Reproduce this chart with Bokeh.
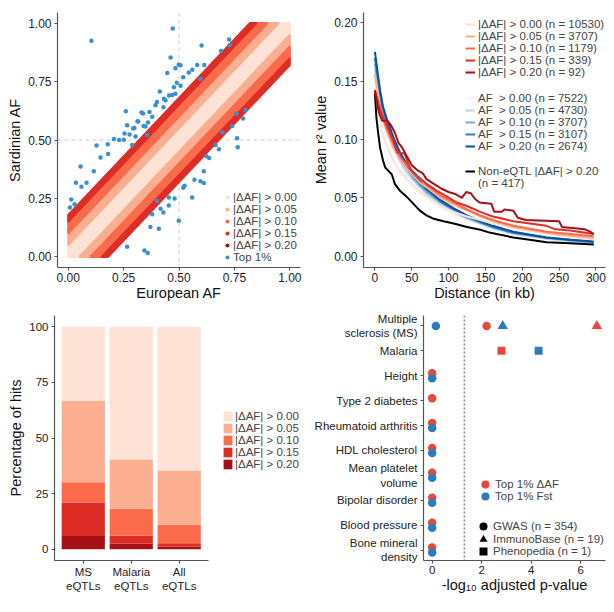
from bokeh.plotting import figure
from bokeh.layouts import row, column
from bokeh.models import (Legend, LegendItem, Label, Span, FixedTicker,
                          NumeralTickFormatter, ColumnDataSource)
from bokeh.embed import file_html
from bokeh.resources import INLINE

FONT = "Liberation Sans"
AXIS_COLOR = "#555555"

# ---------------- data: panel A ----------------
delta_thresholds = [0.00, 0.05, 0.10, 0.15, 0.20]
delta_max = 0.18
delta_labels = ["|ΔAF| > 0.00", "|ΔAF| > 0.05", "|ΔAF| > 0.10", "|ΔAF| > 0.15", "|ΔAF| > 0.20"]
reds = ["#fee2d5", "#fcae91", "#fb6a4a", "#de2d26", "#a50f15"]
top1_eur = [0.105, 0.472, 0.462, 0.602, 0.726, 0.729, 0.690, 0.507, 0.582, 0.614, 0.544, 0.597,
            0.519, 0.507, 0.477, 0.414, 0.432, 0.401, 0.455, 0.367, 0.338, 0.379, 0.313, 0.266,
            0.260, 0.254, 0.293, 0.340, 0.360, 0.206, 0.230, 0.179, 0.128, 0.146, 0.180, 0.116,
            0.056, 0.083, 0.035, 0.060, 0.014, 0.008, 0.029, 0.289, 0.356, 0.430, 0.490, 0.560,
            0.447, 0.484, 0.499, 0.439, 0.394, 0.331, 0.316, 0.299, 0.349, 0.277, 0.251, 0.304,
            0.469, 0.484,
            0.344, 0.359, 0.266, 0.499, 0.401, 0.379, 0.371, 0.409, 0.417, 0.454, 0.454, 0.519,
            0.525, 0.559, 0.597, 0.612, 0.612, 0.624, 0.636, 0.665, 0.696, 0.765, 0.762, 0.789,
            0.759, 0.800, 0.740, 0.680, 0.570, 0.480, 0.430]
top1_sar = [0.924, 0.977, 0.853, 0.904, 0.930, 0.906, 0.880, 0.820, 0.821, 0.821, 0.789, 0.761,
            0.768, 0.732, 0.725, 0.707, 0.676, 0.662, 0.690, 0.620, 0.613, 0.599, 0.580, 0.563,
            0.623, 0.528, 0.549, 0.560, 0.575, 0.504, 0.500, 0.482, 0.476, 0.425, 0.440, 0.366,
            0.387, 0.317, 0.317, 0.300, 0.246, 0.211, 0.225, 0.479, 0.521, 0.640, 0.745, 0.800,
            0.786, 0.807, 0.822, 0.670, 0.649, 0.618, 0.579, 0.551, 0.558, 0.523, 0.501, 0.515,
            0.692, 0.698,
            0.028, 0.017, 0.044, 0.155, 0.239, 0.183, 0.128, 0.121, 0.206, 0.220, 0.254, 0.296,
            0.304, 0.254, 0.324, 0.366, 0.316, 0.431, 0.423, 0.479, 0.532, 0.469, 0.507, 0.592,
            0.613, 0.627, 0.560, 0.460, 0.330, 0.250, 0.190]
top1_color = "#3a8fd1"

# ---------------- data: panel B ----------------
dist_kb = [0, 7, 11, 16, 25, 34, 43, 52, 61, 70, 89, 107, 125, 143, 160, 188, 233, 265, 297]
r2_delta_000 = [0.150, 0.115, 0.104, 0.095, 0.082, 0.073, 0.066, 0.060, 0.055, 0.051, 0.043, 0.038, 0.034, 0.031, 0.028, 0.024, 0.019, 0.0165, 0.0145]
r2_delta_005 = [0.156, 0.128, 0.117, 0.107, 0.093, 0.083, 0.075, 0.069, 0.063, 0.059, 0.050, 0.044, 0.039, 0.034, 0.030, 0.025, 0.020, 0.0175, 0.0155]
r2_delta_010 = [0.142, 0.128, 0.118, 0.110, 0.096, 0.085, 0.078, 0.072, 0.066, 0.061, 0.052, 0.046, 0.040, 0.035, 0.031, 0.026, 0.021, 0.019, 0.017]
dist_kb_015 = [0, 7, 16, 25, 30, 40, 45, 48, 57, 70, 84, 98, 111, 125, 143, 160, 188, 233, 245, 265, 297]
r2_delta_015 = [0.142, 0.125, 0.112, 0.099, 0.089, 0.088, 0.080, 0.075, 0.069, 0.062, 0.056, 0.051, 0.046, 0.043, 0.038, 0.034, 0.030, 0.026, 0.023, 0.022, 0.019]
dist_kb_020 = [0, 3, 6, 10, 17, 22, 27, 32, 37, 43, 50, 57, 65, 70, 80, 90, 100, 110, 118, 124, 130, 136, 142, 158, 162, 172, 176, 188, 194, 205, 250, 254, 285, 292, 297]
r2_delta_020 = [0.142, 0.130, 0.122, 0.116, 0.116, 0.112, 0.106, 0.097, 0.093, 0.086, 0.078, 0.074, 0.071, 0.066, 0.062, 0.058, 0.055, 0.053, 0.050, 0.055, 0.054, 0.049, 0.046, 0.045, 0.038, 0.038, 0.040, 0.039, 0.033, 0.031, 0.030, 0.025, 0.023, 0.021, 0.019]
r2_af_000 = [0.155, 0.128, 0.115, 0.105, 0.090, 0.079, 0.069, 0.062, 0.056, 0.051, 0.042, 0.036, 0.031, 0.027, 0.023, 0.019, 0.015, 0.013, 0.011]
r2_af_005 = [0.160, 0.132, 0.119, 0.109, 0.094, 0.082, 0.072, 0.065, 0.059, 0.053, 0.044, 0.038, 0.032, 0.028, 0.024, 0.019, 0.015, 0.013, 0.0115]
r2_af_010 = [0.165, 0.136, 0.123, 0.113, 0.097, 0.085, 0.075, 0.067, 0.061, 0.055, 0.046, 0.039, 0.033, 0.029, 0.025, 0.020, 0.0155, 0.0135, 0.012]
r2_af_015 = [0.170, 0.139, 0.126, 0.116, 0.100, 0.087, 0.077, 0.069, 0.062, 0.057, 0.047, 0.040, 0.034, 0.029, 0.025, 0.020, 0.016, 0.014, 0.012]
r2_af_020 = [0.175, 0.142, 0.128, 0.118, 0.102, 0.089, 0.079, 0.071, 0.064, 0.058, 0.048, 0.041, 0.035, 0.030, 0.026, 0.021, 0.016, 0.014, 0.0125]
dist_kb_non = [0, 2, 4.5, 7, 11, 14, 20, 23, 27, 34, 43, 52, 61, 70, 80, 93, 107, 125, 143, 157, 188, 210, 233, 265, 297]
r2_non_eqtl = [0.139, 0.119, 0.105, 0.093, 0.082, 0.076, 0.072, 0.070, 0.062, 0.056, 0.051, 0.045, 0.039, 0.035, 0.032, 0.030, 0.028, 0.025, 0.0226, 0.020, 0.016, 0.014, 0.012, 0.011, 0.010]
delta_n = [10530, 3707, 1179, 339, 92]
af_n = [7522, 4730, 3707, 3107, 2674]
non_eqtl_n = 417
blues = ["#eff3ff", "#bdd7e7", "#6baed6", "#3182bd", "#08519c"]

# ---------------- data: panel C ----------------
c_categories = ["MS\neQTLs", "Malaria\neQTLs", "All\neQTLs"]
pct_delta_020 = [6.0, 2.5, 1.2]
pct_delta_015 = [15.0, 3.6, 1.6]
pct_delta_010 = [9.1, 12.1, 8.2]
pct_delta_005 = [36.6, 22.2, 24.4]
pct_delta_000 = [33.3, 59.6, 64.6]

# ---------------- data: panel D ----------------
d_traits = ["Multiple\nsclerosis (MS)", "Malaria", "Height", "Type 2 diabetes",
            "Rheumatoid arthritis", "HDL cholesterol", "Mean platelet\nvolume",
            "Bipolar disorder", "Blood pressure", "Bone mineral\ndensity"]
d_trait_idx = [0, 0, 0, 0, 1, 1, 2, 2, 3, 4, 4, 5, 5, 6, 6, 7, 7, 8, 8, 9, 9]
d_metric = ["dAF", "Fst", "Fst", "dAF", "dAF", "Fst", "dAF", "Fst", "dAF", "dAF", "Fst",
            "dAF", "Fst", "dAF", "Fst", "dAF", "Fst", "dAF", "Fst", "dAF", "Fst"]
d_source = ["GWAS", "GWAS", "ImmunoBase", "ImmunoBase", "Phenopedia", "Phenopedia",
            "GWAS", "GWAS", "GWAS", "GWAS", "GWAS", "GWAS", "GWAS", "GWAS", "GWAS",
            "GWAS", "GWAS", "GWAS", "GWAS", "GWAS", "GWAS"]
d_value = [2.2, 0.15, 2.85, 6.65, 2.8, 4.3, 0, 0, 0, 0, 0, 0, 0, 0, 0, 0, 0, 0, 0, 0, 0]
d_metric_labels = {"dAF": "Top 1% ΔAF", "Fst": "Top 1% Fst"}
d_source_labels = {"GWAS": "GWAS (n = 354)", "ImmunoBase": "ImmunoBase (n = 19)",
                   "Phenopedia": "Phenopedia (n = 1)"}
sig_threshold = 1.3
d_colors = {"dAF": "#e8473b", "Fst": "#2b7cbc"}
d_markers = {"GWAS": "circle", "ImmunoBase": "triangle", "Phenopedia": "square"}
d_sizes = {"GWAS": 8.5, "ImmunoBase": 10.5, "Phenopedia": 8}


def style(p, tick_size="12px"):
    p.outline_line_color = None
    p.xgrid.grid_line_color = None
    p.ygrid.grid_line_color = None
    p.background_fill_color = "white"
    p.border_fill_color = "white"
    for ax in p.axis:
        ax.axis_line_color = AXIS_COLOR
        ax.axis_line_width = 1.2
        ax.major_tick_line_color = AXIS_COLOR
        ax.major_tick_line_width = 1.2
        ax.major_tick_in = 0
        ax.major_tick_out = 3
        ax.minor_tick_line_color = None
        ax.major_label_text_font = FONT
        ax.major_label_text_font_size = tick_size
        ax.major_label_text_color = "#222222"
        ax.axis_label_text_font = FONT
        ax.axis_label_text_font_size = "14.5px"
        ax.axis_label_text_font_style = "normal"
        ax.axis_label_text_color = "#111111"
        ax.major_label_standoff = 3
        ax.axis_label_standoff = 2
    for ax in p.xaxis:
        ax.major_label_standoff = 2
        ax.axis_label_standoff = 0


def panel_label(p, text, x, y):
    p.add_layout(Label(x=x, y=y, x_units="screen", y_units="screen", text=text,
                       text_font=FONT, text_font_size="13px", text_font_style="bold",
                       text_baseline="middle", text_align="left"))


def make_legend(items, loc, font_size="11.5px", gw=10, gh=12, lh=12, standoff=3):
    return Legend(items=items, location=loc, label_text_font=FONT,
                  label_text_font_size=font_size, label_height=lh, glyph_height=gh,
                  glyph_width=gw, spacing=0, padding=0, margin=0, label_standoff=standoff,
                  border_line_color=None, background_fill_alpha=0)


# ================= Panel A =================
pa = figure(width=305, height=304, x_range=(-0.048, 1.048), y_range=(-0.045, 1.045),
            min_border_left=57, min_border_right=5, min_border_top=10, min_border_bottom=37,
            output_backend="svg", toolbar_location=None)
style(pa)
pa.xaxis.axis_label = "European AF"
pa.yaxis.axis_label = "Sardinian AF"
pa.xaxis.ticker = FixedTicker(ticks=[0, 0.25, 0.5, 0.75, 1.0])
pa.yaxis.ticker = FixedTicker(ticks=[0, 0.25, 0.5, 0.75, 1.0])
pa.xaxis.formatter = NumeralTickFormatter(format="0.00")
pa.yaxis.formatter = NumeralTickFormatter(format="0.00")
pa.add_layout(Span(location=0.5, dimension="height", line_color="#cccccc", line_dash="4 3", line_width=1, level="underlay"))
pa.add_layout(Span(location=0.5, dimension="width", line_color="#cccccc", line_dash="4 3", line_width=1, level="underlay"))

edges = delta_thresholds + [1.0]
band_xs, band_ys, band_cols = [], [], []
for i in range(len(delta_thresholds)):
    lo, hi = edges[i], min(edges[i + 1], delta_max)
    if lo >= hi:
        continue
    band_xs.append([0, 0, 1 - hi, 1 - lo]); band_ys.append([lo, hi, 1, 1])
    band_xs.append([lo, hi, 1, 1]); band_ys.append([0, 0, 1 - hi, 1 - lo])
    band_cols += [reds[i], reds[i]]
pa.patches(band_xs, band_ys, fill_color=band_cols, line_color=band_cols, line_width=2)
pa.scatter(top1_eur, top1_sar, size=4.5, fill_color=top1_color, line_color=None)

a_items = []
for lab, col in zip(delta_labels, reds):
    r = pa.scatter([-9], [-9], size=4.5, fill_color=col, line_color=None)
    a_items.append(LegendItem(label=lab, renderers=[r]))
rt = pa.scatter([-9], [-9], size=4.5, fill_color=top1_color, line_color=None)
a_items.append(LegendItem(label="Top 1%", renderers=[rt]))
pa.add_layout(make_legend(a_items, (165, 4), font_size="11.5px", gw=10, standoff=1))
panel_label(pa, "A", -47, 253)

# ================= Panel B =================
pb = figure(width=309, height=304, x_range=(-15.5, 313), y_range=(-0.0097, 0.2088),
            min_border_left=58, min_border_right=9, min_border_top=12, min_border_bottom=37,
            output_backend="svg", toolbar_location=None)
style(pb)
pb.xaxis.axis_label = "Distance (in kb)"
pb.yaxis.axis_label = "Mean r² value"
pb.xaxis.ticker = FixedTicker(ticks=[0, 50, 100, 150, 200, 250, 300])
pb.yaxis.ticker = FixedTicker(ticks=[0, 0.05, 0.10, 0.15, 0.20])
pb.yaxis.formatter = NumeralTickFormatter(format="0.00")

LW = 2
delta_series = [(dist_kb, r2_delta_000), (dist_kb, r2_delta_005), (dist_kb, r2_delta_010),
                (dist_kb_015, r2_delta_015), (dist_kb_020, r2_delta_020)]
af_series = [r2_af_000, r2_af_005, r2_af_010, r2_af_015, r2_af_020]
af_thr = [0.00, 0.05, 0.10, 0.15, 0.20]

af_renderers = []
for ys, col in zip(af_series, blues):
    af_renderers.append(pb.line(dist_kb, ys, line_color=col, line_width=LW))
non_r = pb.line(dist_kb_non, r2_non_eqtl, line_color="black", line_width=LW)
delta_renderers = []
for (xs, ys), col in zip(delta_series, reds):
    delta_renderers.append(pb.line(xs, ys, line_color=col, line_width=LW))

items1 = [LegendItem(label=f"{lab} (n = {n})", renderers=[r])
          for lab, n, r in zip(delta_labels, delta_n, delta_renderers)]
items2 = [LegendItem(label=f"AF  > {t:.2f} (n = {n})", renderers=[r])
          for t, n, r in zip(af_thr, af_n, af_renderers)]
dummy = pb.line([], [], line_alpha=0)
items3 = [LegendItem(label="Non-eQTL |ΔAF| > 0.20", renderers=[non_r]),
          LegendItem(label=f"(n = {non_eqtl_n})", renderers=[dummy])]
pb.add_layout(make_legend(items1, (102, 189)))
pb.add_layout(make_legend(items2, (102, 115)))
pb.add_layout(make_legend(items3, (102, 78)))
panel_label(pb, "B", -50, 252)

# ================= Panel C =================
c_x = [i + 1 for i in range(len(c_categories))]
src_c = ColumnDataSource(dict(x=c_x, d020=pct_delta_020, d015=pct_delta_015, d010=pct_delta_010,
                              d005=pct_delta_005, d000=pct_delta_000))
pc = figure(width=305, height=308, x_range=(0.4, 5.57), y_range=(-5, 105),
            min_border_left=54, min_border_right=3, min_border_top=11, min_border_bottom=52,
            output_backend="svg", toolbar_location=None)
style(pc, tick_size="11.5px")
pc.yaxis.axis_label = "Percentage of hits"
pc.yaxis.ticker = FixedTicker(ticks=[0, 25, 50, 75, 100])
pc.xaxis.ticker = FixedTicker(ticks=c_x)
pc.xaxis.bounds = (0.4, 3.6)
pc.xaxis.major_label_overrides = {x: lab for x, lab in zip(c_x, c_categories)}
stack_cols = [reds[4], reds[3], reds[2], reds[1], reds[0]]
bars = pc.vbar_stack(["d020", "d015", "d010", "d005", "d000"], x="x", width=0.9,
                     color=stack_cols, line_color=None, source=src_c)
c_items = [LegendItem(label=lab, renderers=[r]) for lab, r in zip(delta_labels, bars[::-1])]
pc.add_layout(make_legend(c_items, (168, 90), gw=11, standoff=2))
panel_label(pc, "C", -37, 247)

# ================= Panel D =================
n_tr = len(d_traits)
d_y = []
for ti, m, v in zip(d_trait_idx, d_metric, d_value):
    dodge = (0.1 if m == "dAF" else -0.1) if v < 0.1 else 0.0
    d_y.append(n_tr - ti + dodge)

pd_ = figure(width=309, height=308, x_range=(-0.35, 7.0), y_range=(0.58, 10.42),
             min_border_left=118, min_border_right=9, min_border_top=11, min_border_bottom=45,
             output_backend="svg", toolbar_location=None)
style(pd_, tick_size="11.5px")
pd_.xaxis.axis_label = "-log₁₀ adjusted p-value"
pd_.xaxis.ticker = FixedTicker(ticks=[0, 2, 4, 6])
pd_.yaxis.ticker = FixedTicker(ticks=[n_tr - i for i in range(n_tr)])
pd_.yaxis.major_label_overrides = {n_tr - i: t for i, t in enumerate(d_traits)}
pd_.add_layout(Span(location=sig_threshold, dimension="height", line_color="#888888",
                    line_dash="2 2", line_width=1.5, level="underlay"))
for m in ["dAF", "Fst"]:
    idx = [i for i in range(len(d_value)) if d_metric[i] == m]
    src = ColumnDataSource(dict(x=[d_value[i] for i in idx], y=[d_y[i] for i in idx],
                                marker=[d_markers[d_source[i]] for i in idx],
                                size=[d_sizes[d_source[i]] for i in idx]))
    pd_.scatter("x", "y", marker="marker", size="size", source=src,
                fill_color=d_colors[m], line_color=None)

# one single-item legend per entry, so that big glyphs can sit on tight rows
d_leg_entries = []
for m in ["dAF", "Fst"]:
    r = pd_.scatter([-9], [-9], marker="circle", size=8.5, fill_color=d_colors[m], line_color=None)
    d_leg_entries.append(LegendItem(label=d_metric_labels[m], renderers=[r]))
for s in ["GWAS", "ImmunoBase", "Phenopedia"]:
    r = pd_.scatter([-9], [-9], marker=d_markers[s], size=d_sizes[s], fill_color="black", line_color=None)
    d_leg_entries.append(LegendItem(label=d_source_labels[s], renderers=[r]))
d_leg_pos = [(52, 66), (52, 54.5), (50, 24), (50, 11.5), (50, -0.5)]
for item, pos in zip(d_leg_entries, d_leg_pos):
    pd_.add_layout(make_legend([item], pos, font_size="11.5px", gw=20, gh=20, lh=12, standoff=0))
panel_label(pd_, "D", -110, 249)

layout = column(row(pa, pb), row(pc, pd_))
open("out.html", "w").write(file_html(layout, INLINE))
